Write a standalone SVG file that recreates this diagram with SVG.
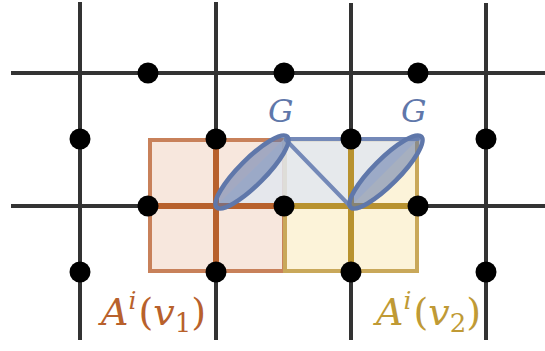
<svg xmlns="http://www.w3.org/2000/svg" width="545" height="351" viewBox="0 0 545 351">
<style>
.grid{stroke:#333;stroke-width:4;fill:none}
.dot{fill:#000}
.ell{fill:#5f77aa;fill-opacity:0.55;stroke:#5f77aa;stroke-width:4.5}
.lbl{font-family:"DejaVu Serif","Liberation Serif",serif;font-style:italic}
</style>
<rect width="545" height="351" fill="#fff"/>
<g id="connectors">
<g class="grid">
<line x1="80" y1="2" x2="80" y2="340"/>
<line x1="216" y1="2" x2="216" y2="340"/>
<line x1="351" y1="3" x2="351" y2="340"/>
<line x1="486" y1="3" x2="486" y2="340"/>
<line x1="11" y1="73" x2="545" y2="73"/>
<line x1="11" y1="206" x2="545" y2="206"/>
</g>
</g>
<g id="A1">
<rect x="150" y="140" width="134" height="131" fill="#f7e7dd" stroke="#c8815a" stroke-width="4"/>
</g>
<g id="A2">
<rect x="285" y="140" width="132" height="131" fill="#fcf3d9" stroke="#c9a85a" stroke-width="4"/>
</g>
<g id="G-region">
<polygon points="216,206 284,139 418,139 351,206" fill="#e2e6ef" fill-opacity="0.85"/>
</g>
<g id="A1-cross" stroke="#b8612c" stroke-width="6">
<line x1="216" y1="140" x2="216" y2="271"/>
<line x1="150" y1="206" x2="284" y2="206"/>
</g>
<g id="A2-cross" stroke="#b8922f" stroke-width="6">
<line x1="351" y1="140" x2="351" y2="271"/>
<line x1="285" y1="206" x2="417" y2="206"/>
</g>
<g id="G-edges" stroke="#7489b8" stroke-width="4" fill="none" stroke-linecap="round">
<line x1="286" y1="139" x2="418" y2="139"/>
<line x1="286" y1="140" x2="349" y2="205"/>
</g>
<g id="G1">
<ellipse class="ell" cx="252" cy="172" rx="50" ry="13" transform="rotate(-45 252 172)"/>
<text class="lbl" x="268" y="122" font-size="32" fill="#5f77aa">G</text>
</g>
<g id="G2">
<ellipse class="ell" cx="386" cy="172" rx="50" ry="13" transform="rotate(-45 386 172)"/>
<text class="lbl" x="401" y="122" font-size="32" fill="#5f77aa">G</text>
</g>
<g id="dots">
<circle class="dot" cx="148" cy="73" r="10.5"/>
<circle class="dot" cx="284" cy="73" r="10.5"/>
<circle class="dot" cx="418" cy="73" r="10.5"/>
<circle class="dot" cx="80" cy="139" r="10.5"/>
<circle class="dot" cx="216" cy="139" r="10.5"/>
<circle class="dot" cx="351" cy="139" r="10.5"/>
<circle class="dot" cx="486" cy="139" r="10.5"/>
<circle class="dot" cx="148" cy="206" r="10.5"/>
<circle class="dot" cx="284" cy="206" r="10.5"/>
<circle class="dot" cx="418" cy="206" r="10.5"/>
<circle class="dot" cx="80" cy="272" r="10.5"/>
<circle class="dot" cx="216" cy="272" r="10.5"/>
<circle class="dot" cx="351" cy="272" r="10.5"/>
<circle class="dot" cx="486" cy="272" r="10.5"/>
</g>
<g id="label-A1">
<text class="lbl" x="101" y="325" font-size="38" fill="#b8612c">A<tspan font-size="25" dy="-16">i</tspan><tspan font-style="normal" dx="2" dy="16">(</tspan>v<tspan font-style="normal" font-size="26" dy="7">1</tspan><tspan font-style="normal" dy="-7">)</tspan></text>
</g>
<g id="label-A2">
<text class="lbl" x="376" y="325" font-size="38" fill="#c09a35">A<tspan font-size="25" dy="-16">i</tspan><tspan font-style="normal" dx="2" dy="16">(</tspan>v<tspan font-style="normal" font-size="26" dy="7">2</tspan><tspan font-style="normal" dy="-7">)</tspan></text>
</g>
</svg>
